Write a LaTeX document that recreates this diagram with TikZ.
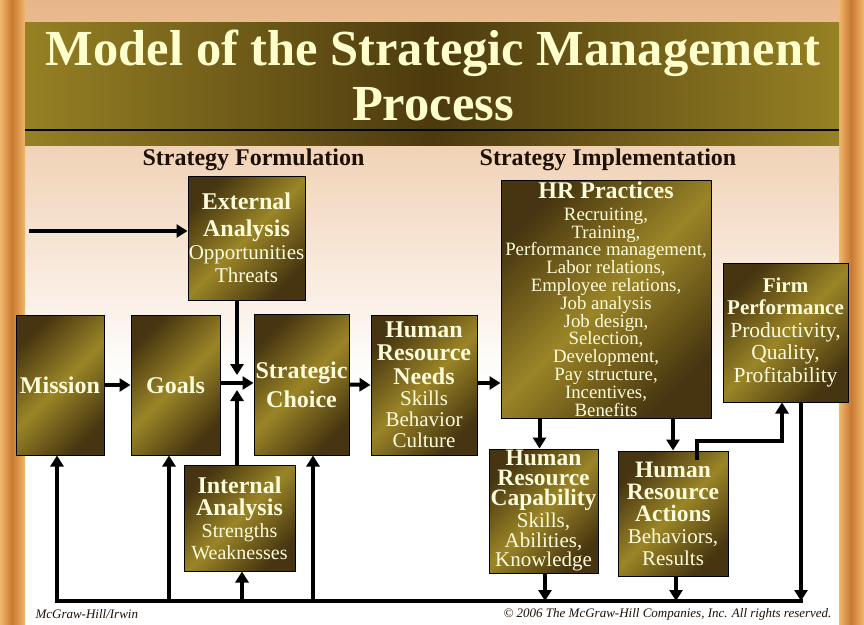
\documentclass[tikz,border=0pt]{standalone}
\usepackage{fontspec}
\setmainfont{Liberation Serif}
\usepackage{xcolor}
\usepackage{tikz}
\usetikzlibrary{arrows.meta}

\definecolor{boxdark}{HTML}{463510}
\definecolor{boxolive}{HTML}{9B8527}
\definecolor{bardark}{HTML}{4C3A0E}
\definecolor{barolive}{HTML}{968124}
\definecolor{cream}{HTML}{FFFCDC}
\definecolor{titleyellow}{HTML}{FFFFCC}
\definecolor{peach}{HTML}{E8B688}
\definecolor{woodlight}{HTML}{F0B86C}
\definecolor{wooddark}{HTML}{C97830}
\definecolor{headbrown}{HTML}{1E1005}

\newcommand\bxb[1]{\fontsize{#1}{\baselineskip}\selectfont\bfseries}

\begin{document}
\begin{tikzpicture}[x=1pt,y=-1pt]
        \tikzstyle{box}=[draw=black,line width=1pt,inner sep=0pt,text=cream,align=center,
          top color=boxdark,bottom color=boxdark,middle color=boxolive,shading angle=45]
        \tikzstyle{flow}=[line width=4pt,-{Triangle[length=11pt,width=13pt]}]
        \tikzstyle{heading}=[anchor=base,text=headbrown,font=\fontsize{24}{24}\selectfont\bfseries]
        \tikzstyle{titletext}=[anchor=base,text=titleyellow,font=\fontsize{50.5}{55}\selectfont\bfseries]
        \tikzstyle{footer}=[text=headbrown,font=\fontsize{13}{13}\selectfont\itshape]

        \useasboundingbox (0,0) rectangle (864,624);
        \fill[white] (0,0) rectangle (864,624);
        \fill[top color=peach,bottom color=white] (25,0) rectangle (839,380);
        \fill[left color=woodlight,right color=wooddark] (0,0) rectangle (12,624);
        \fill[left color=wooddark,right color=woodlight] (12,0) rectangle (25,624);
        \fill[left color=woodlight,right color=wooddark] (839,0) rectangle (851,624);
        \fill[left color=wooddark,right color=woodlight] (851,0) rectangle (864,624);
        \fill[left color=barolive,right color=barolive,middle color=bardark] (25,22) rectangle (839,145);
        \draw[line width=2pt] (25,130) -- (839,130);

        \node[titletext] (title1) at (433,65) {Model of the Strategic Management};
        \node[titletext] (title2) at (433,120) {Process};

        \node[heading] (form) at (253.5,165) {Strategy Formulation};
        \node[heading] (impl) at (608,165) {Strategy Implementation};

        \node[box,minimum width=117pt,minimum height=124pt,font=\fontsize{21}{23}\selectfont] (ext) at (246.5,238)
          {\bxb{24}External\\[4pt]\bxb{24}Analysis\\Opportunities\\Threats};
        \node[box,minimum width=88pt,minimum height=140pt] (mission) at (60,385) {\bxb{24}Mission};
        \node[box,minimum width=89pt,minimum height=140pt] (goals) at (175.5,385) {\bxb{24}Goals};
        \node[box,minimum width=95pt,minimum height=141pt,font=\fontsize{24}{29}\selectfont] (strat) at (301.5,384.5)
          {\bxb{24}Strategic\\\bxb{24}Choice};
        \node[box,minimum width=111pt,minimum height=106pt,font=\fontsize{20}{22}\selectfont] (int) at (239.5,518)
          {\bxb{24}Internal\\\bxb{24}Analysis\\Strengths\\Weaknesses};
        \node[box,minimum width=106pt,minimum height=140pt,font=\fontsize{21}{21}\selectfont] (needs) at (424,385)
          {\bxb{24}Human\\[2pt]\bxb{24}Resource\\[3pt]\bxb{24}Needs\\Skills\\Behavior\\Culture};
        \node[box,minimum width=210pt,minimum height=238pt,font=\fontsize{18.8}{17.8}\selectfont] (prac) at (606,299)
          {\bxb{24}HR Practices\\[4pt]Recruiting,\\Training,\\Performance management,\\Labor relations,\\
           Employee relations,\\Job analysis\\Job design,\\Selection,\\Development,\\Pay structure,\\
           Incentives,\\Benefits};
        \node[box,minimum width=125pt,minimum height=139pt,font=\fontsize{21.5}{22.5}\selectfont] (firm) at (785.5,332.5)
          {\bxb{21}Firm\\\bxb{21}Performance\\Productivity,\\Quality,\\Profitability};
        \node[box,minimum width=109pt,minimum height=124pt,font=\fontsize{21}{19.8}\selectfont] (cap) at (543.5,511)
          {\bxb{23.5}Human\\\bxb{23.5}Resource\\\bxb{23.5}Capability\\[2pt]Skills,\\Abilities,\\Knowledge};
        \node[box,minimum width=110pt,minimum height=125pt,font=\fontsize{21}{22}\selectfont] (act) at (673,513.5)
          {\bxb{23.5}Human\\\bxb{23.5}Resource\\\bxb{23.5}Actions\\Behaviors,\\Results};

        \coordinate (src) at (29,231);
        \coordinate (join) at (237,383);
        \coordinate (busL) at (57,601);
        \coordinate (busR) at (801,601);

        \draw[flow] (src) -- (src -| ext.west);
        \draw[flow] (ext.south -| join) -- ([yshift=8pt]join);
        \draw[flow] (int.north -| join) -- ([yshift=-7pt]join);
        \draw[flow] (mission.east) -- (goals.west);
        \draw[flow] (goals.east |- join) -- (strat.west |- join);
        \draw[flow] (strat.east) -- (needs.west);
        \draw[flow] (needs.east |- join) -- (prac.west |- join);
        \draw[flow] ([xshift=-4pt]cap.north |- prac.south) -- ([xshift=-4pt]cap.north);
        \draw[flow] (act.north |- prac.south) -- (act.north);
        \draw[flow,line join=miter] ([xshift=24pt,yshift=-9pt]act.north) -- ++(0,-19) -| ([xshift=-3.5pt]firm.south);

        \draw[line width=4pt,line cap=rect] (busL) -- (busR);
        \draw[flow] (firm.south -| busR) -- (busR);
        \draw[flow] ([xshift=1.5pt]cap.south) -- ([xshift=1.5pt]cap.south |- busR);
        \draw[flow] ([xshift=3pt]act.south) -- ([xshift=3pt]act.south |- busR);
        \draw[flow] (busL) -- (busL |- mission.south);
        \draw[flow] ([xshift=-6.5pt]goals.south |- busL) -- ([xshift=-6.5pt]goals.south);
        \draw[flow] ([xshift=2.5pt]int.south |- busL) -- ([xshift=2.5pt]int.south);
        \draw[flow] ([xshift=11.5pt]strat.south |- busL) -- ([xshift=11.5pt]strat.south);

        \node[footer,anchor=base west] (pub) at (32,618) {McGraw-Hill/Irwin};
        \node[footer,anchor=base east] (rights) at (835,617) {© 2006 The McGraw-Hill Companies, Inc. All rights reserved.};
\end{tikzpicture}
\end{document}
